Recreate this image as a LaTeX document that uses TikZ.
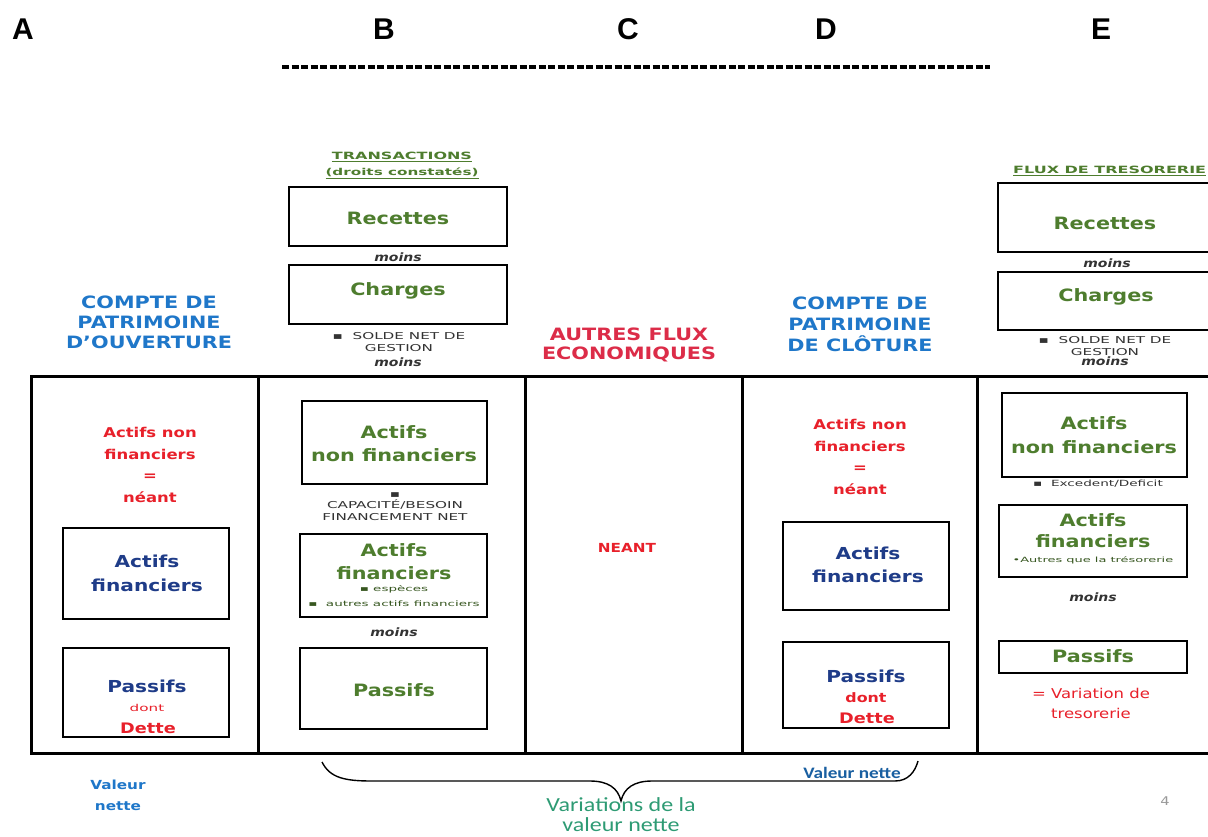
\documentclass[tikz,border=0pt]{standalone}
\usepackage{fontspec}
\setmainfont{DejaVu Sans}
\newfontfamily\fA[FakeStretch=1.22]{DejaVu Sans}
\newfontfamily\fS[FakeStretch=1.6]{DejaVu Sans}
\newfontfamily\fT[FakeStretch=1.8]{DejaVu Sans}
\newfontfamily\fC[FakeStretch=1.2]{Carlito}
\newfontfamily\fH{Liberation Sans}
\newcommand{\fsz}[2]{\fontsize{#1}{#2}\selectfont}
\definecolor{cBlue}{HTML}{1F77C9}
\definecolor{cNavy}{HTML}{1F3C88}
\definecolor{cGreen}{HTML}{4E7D2E}
\definecolor{cRed}{HTML}{E8202A}
\definecolor{cCrim}{HTML}{DC2C48}
\definecolor{cTeal}{HTML}{2E9B74}
\definecolor{cSmall}{HTML}{333333}
\tikzset{
  box/.style={draw=black, line width=1.5pt, inner sep=0pt},
  frame/.style={line width=3pt, line cap=rect},
  t/.style={inner sep=0pt, align=center},
  hdr/.style={t, font=\fH\bfseries\fsz{30}{32}},
  ttl/.style={t, text=cBlue, font=\fA\bfseries\fsz{17}{20}},
  gtxt/.style={t, text=cGreen, font=\fA\bfseries\fsz{17}{23.5}},
  ntxt/.style={t, text=cNavy, font=\fA\bfseries\fsz{16.5}{24}},
  rtxt/.style={t, text=cRed, font=\fA\bfseries\fsz{13.5}{21.5}},
  moinsT/.style={t, text=cSmall, font=\fA\bfseries\itshape\fsz{11.5}{12}},
  smallT/.style={t, text=cSmall, font=\fS\fsz{9.5}{12}},
  tinyT/.style={t, text=cGreen!70!black, font=\fT\fsz{7.5}{15}},
  ulT/.style={t, text=cGreen, font=\fS\bfseries\fsz{10}{12}},
}
\begin{document}
\begin{tikzpicture}[x=1pt,y=-1pt]
\useasboundingbox (0,0) rectangle (1208,836);
\clip (0,0) rectangle (1208,836);
\fill[white] (0,0) rectangle (1208,836);

% column letters
\node[hdr] (hA) at (23,29) {A};
\node[hdr] (hB) at (384,29) {B};
\node[hdr] (hC) at (628,29) {C};
\node[hdr] (hD) at (826,29) {D};
\node[hdr] (hE) at (1101,29) {E};
\coordinate (dashL) at (282,67);
\coordinate (dashR) at (990,67);
\draw[dash pattern=on 7pt off 2.5pt, line width=4pt] (dashL) -- (dashR);

% column titles
\node[ttl] (tA) at (149,322) {COMPTE DE\\PATRIMOINE\\D’OUVERTURE};
\node[ttl, font=\fA\bfseries\fsz{17}{21}] (tD) at (860,324) {COMPTE DE\\PATRIMOINE\\DE CLÔTURE};
\node[t, text=cCrim, font=\fA\bfseries\fsz{17}{18.5}] (tC) at (629,345) {AUTRES FLUX\\ECONOMIQUES};
\node[ulT] (tB1) at (402,157) {\underline{TRANSACTIONS}};
\node[ulT, font=\fS\bfseries\fsz{9.5}{12}] (tB2) at (402,173) {\underline{(droits constatés)}};
\node[ulT, anchor=west] (tE) at (1013,171) {\underline{FLUX DE TRESORERIE}};

% main frame
\draw[frame] (1212,376) -- (31,376) -- (31,753) -- (1212,753);
\foreach \xx in {258,525,742,977} \draw[frame] (\xx,376) -- (\xx,753);

% ---- column B top
\node[box, minimum width=218pt, minimum height=59pt] (bRec) at (398,216.5) {};
\node[gtxt] (bRecT) at (398,218) {Recettes};
\node[moinsT] (bM1) at (398,257) {moins};
\node[box, minimum width=218pt, minimum height=59pt] (bCha) at (398,294.5) {};
\node[gtxt] (bChaT) at (398,291) {Charges};
\node[smallT] (bSol) at (399,342) {▪ \ SOLDE NET DE\\GESTION};
\node[moinsT] (bM2) at (398,362) {moins};

% ---- column E top
\node[box, minimum width=216pt, minimum height=69pt] (eRec) at (1106,217.5) {};
\node[gtxt] (eRecT) at (1105,223) {Recettes};
\node[moinsT] (eM1) at (1107,263) {moins};
\node[box, minimum width=216pt, minimum height=58pt] (eCha) at (1106,301) {};
\node[gtxt] (eChaT) at (1106,297) {Charges};
\node[smallT] (eSol) at (1105,346) {▪ \ SOLDE NET DE\\GESTION};
\node[moinsT] (eM2) at (1105,361) {moins};

% ---- column A body
\node[rtxt] (aNF) at (150,465) {Actifs non\\financiers\\=\\néant};
\node[box, minimum width=166pt, minimum height=91pt] (aAF) at (146,573.5) {};
\node[ntxt] (aAFT) at (147,573) {Actifs\\financiers};
\node[box, minimum width=166pt, minimum height=89pt] (aP) at (146,692.5) {};
\node[ntxt] (aPT) at (147,686) {Passifs};
\node[t, text=cRed, font=\fS\fsz{9.5}{11}] (aDont) at (147,708) {dont};
\node[t, text=cRed, font=\fA\bfseries\fsz{14.5}{16}] (aDet) at (148,728) {Dette};

% ---- column B body
\node[box, minimum width=185pt, minimum height=83pt] (bANF) at (394.5,442.5) {};
\node[gtxt] (bANFT) at (394,443.5) {Actifs\\non financiers};
\node[smallT] (bCap) at (395,507) {▪\\[-1pt]CAPACITÉ/BESOIN\\FINANCEMENT NET};
\node[box, minimum width=187pt, minimum height=83pt] (bAF) at (393.5,575.5) {};
\node[gtxt] (bAFT) at (394,561.5) {Actifs\\financiers};
\node[tinyT] (bEsp) at (394,589) {▪ espèces};
\node[tinyT] (bAut) at (394,604) {▪ \ autres actifs financiers};
\node[moinsT] (bM3) at (394,632) {moins};
\node[box, minimum width=187pt, minimum height=81pt] (bP) at (393.5,688.5) {};
\node[gtxt] (bPT) at (394,690) {Passifs};

% ---- column C body
\node[t, text=cRed, font=\fA\bfseries\fsz{12.5}{14}] (cNe) at (627,548) {NEANT};

% ---- column D body
\node[rtxt] (dNF) at (860,457) {Actifs non\\financiers\\=\\néant};
\node[box, minimum width=166pt, minimum height=88pt] (dAF) at (866,566) {};
\node[ntxt, font=\fA\bfseries\fsz{16.5}{23}] (dAFT) at (868,564.5) {Actifs\\financiers};
\node[box, minimum width=166pt, minimum height=86pt] (dP) at (866,685) {};
\node[ntxt] (dPT) at (866,676) {Passifs};
\node[t, text=cRed, font=\fA\bfseries\fsz{13}{14}] (dDont) at (866,698) {dont};
\node[t, text=cRed, font=\fA\bfseries\fsz{14.5}{16}] (dDet) at (867,718) {Dette};

% ---- column E body
\node[box, minimum width=185pt, minimum height=84pt] (eANF) at (1094.5,435) {};
\node[gtxt, font=\fA\bfseries\fsz{17}{24}] (eANFT) at (1094,435) {Actifs\\non financiers};
\node[smallT, font=\fS\fsz{8.5}{10}] (eExc) at (1098,484) {▪ \ Excedent/Deficit};
\node[box, minimum width=188pt, minimum height=72pt] (eAF) at (1093,541) {};
\node[gtxt, font=\fA\bfseries\fsz{17}{21}] (eAFT) at (1093,530.5) {Actifs\\financiers};
\node[tinyT, font=\fT\fsz{7.2}{9}] (eAut) at (1093,560) {•Autres que la trésorerie};
\node[moinsT] (eM3) at (1093,597) {moins};
\node[box, minimum width=188pt, minimum height=32pt] (eP) at (1093,657) {};
\node[gtxt] (ePT) at (1093,656) {Passifs};
\node[t, text=cRed, font=\fA\fsz{13.5}{20}] (eVar) at (1091,703) {= Variation de\\tresorerie};

% ---- bottom
\node[t, text=cBlue, font=\fA\bfseries\fsz{12.5}{21}] (aVal) at (118,795) {Valeur\\nette};
\node[t, text=cBlue!80!black, font=\fC\bfseries\fsz{16}{18}] (dVal) at (852,773) {Valeur nette};
\node[t, text=cTeal, font=\fC\fsz{20}{20}] (vVar) at (621,815) {Variations de la\\valeur nette};
\node[t, text=black!40, font=\fA\fsz{12}{12}] (pg) at (1165,801) {4};

\coordinate (brL) at (322,762);
\coordinate (brT) at (621,801);
\coordinate (brR) at (918,761);
\draw[line width=1.4pt] (brL) .. controls (330,778) and (345,781) .. (372,781) -- (590,781)
  .. controls (608,781) and (618,788) .. (brT)
  .. controls (624,788) and (634,781) .. (652,781) -- (895,781)
  .. controls (908,781) and (915,772) .. (brR);
\end{tikzpicture}
\end{document}
